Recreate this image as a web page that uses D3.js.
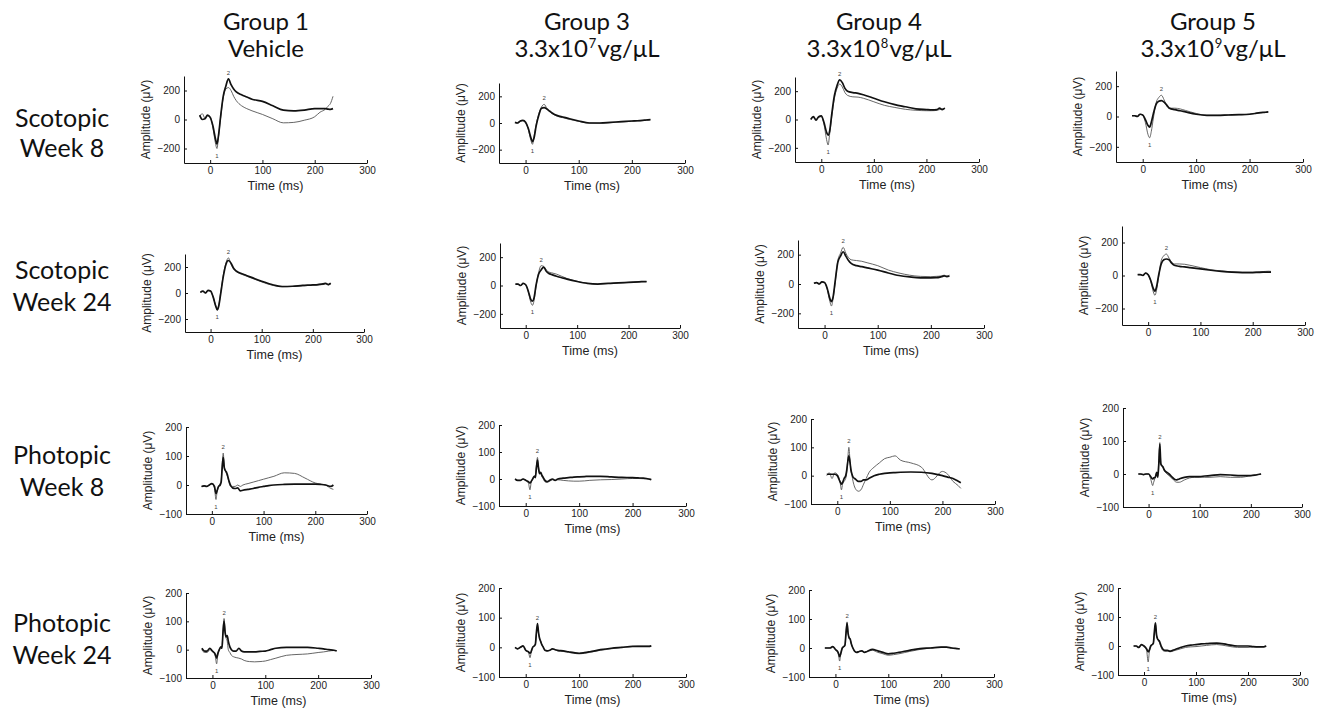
<!DOCTYPE html>
<html><head><meta charset="utf-8">
<script src="https://cdn.jsdelivr.net/npm/d3@7"></script>
<style>body{margin:0;background:#fff}</style></head>
<body>
<svg id="c" width="1325" height="711"></svg>
<script>
// ---------------- DATA ----------------
const groupNames = ["Group 1", "Group 3", "Group 4", "Group 5"];
const doseBase = ["Vehicle", "3.3x10", "3.3x10", "3.3x10"];
const doseExp = ["", "7", "8", "9"];
const doseUnit = ["", "vg/μL", "vg/μL", "vg/μL"];
const rowLine1 = ["Scotopic", "Scotopic", "Photopic", "Photopic"];
const rowLine2 = ["Week 8", "Week 24", "Week 8", "Week 24"];

const xTicks = [0, 100, 200, 300];
const scotYTicks = [-200, 0, 200];
const photYTicks = [-100, 0, 100, 200];
const scotYDomain = [-300, 300];
const photYDomain = [-100, 200];

const scotTime = [-20,-15,-10,-5,0,5,10,13,16,20,25,30,35,40,45,50,60,70,80,100,120,140,160,180,200,210,220,225,230,235];
const photTime = [-20,-15,-10,-5,0,5,8,10,13,16,18,20,22,24,26,28,30,33,36,40,45,50,55,60,70,80,90,100,110,120,140,160,180,200,210,220,230,235];

// Scotopic week 8
const s8g1Thick = [30,0,5,30,15,-40,-130,-170,-110,20,160,230,280,240,210,190,170,155,140,125,95,65,60,65,75,75,75,72,70,75];
const s8g1Thin  = [20,40,10,25,20,-50,-160,-200,-120,10,150,210,220,200,160,130,95,75,60,35,5,-23,-20,-5,19,50,70,90,110,160];
const s8g3Thick = [5,0,15,20,5,-40,-110,-140,-110,-20,60,110,115,105,90,75,55,45,35,15,0,0,5,10,15,17,20,22,24,25];
const s8g3Thin  = [5,0,12,18,5,-45,-130,-160,-100,-10,70,120,140,110,85,70,50,40,30,12,0,-2,3,8,13,15,18,20,22,24];
const s8g4Thick = [0,20,-5,20,25,-20,-90,-110,-80,40,170,240,280,260,220,200,190,185,175,150,125,105,90,75,70,68,70,80,70,80];
const s8g4Thin  = [5,15,0,15,20,-30,-140,-180,-100,20,150,220,250,230,190,170,160,158,150,125,100,85,72,65,62,62,65,70,75,80];
const s8g5Thick = [5,5,0,15,10,-20,-60,-70,-40,20,80,100,105,95,75,55,45,38,30,15,8,8,10,12,15,20,25,27,28,30];
const s8g5Thin  = [5,5,0,15,10,-40,-120,-140,-100,-10,90,125,140,110,70,55,55,50,40,20,8,8,10,12,15,20,24,26,28,30];
// Scotopic week 24
const s24g1Thick = [5,15,0,20,15,-30,-100,-130,-100,0,130,220,250,230,190,170,150,135,120,90,65,50,52,58,62,65,70,75,65,75];
const s24g1Thin  = [5,12,0,18,12,-30,-95,-120,-95,10,140,230,270,220,185,165,145,130,115,85,60,48,50,55,60,62,65,68,62,70];
const s24g3Thick = [10,10,0,15,5,-40,-100,-110,-90,0,80,110,130,100,85,78,65,55,45,28,15,10,15,18,22,24,26,27,28,28];
const s24g3Thin  = [10,10,0,15,5,-45,-120,-140,-110,-10,90,140,135,110,95,90,80,65,50,30,15,10,14,18,22,24,26,27,28,28];
const s24g4Thick = [5,10,0,15,10,-30,-100,-120,-90,20,150,190,220,190,160,140,125,118,110,95,75,58,48,42,42,43,50,55,50,55];
const s24g4Thin  = [5,10,0,15,10,-35,-120,-150,-100,10,160,210,250,210,180,165,160,155,145,125,95,75,60,52,50,52,55,60,55,60];
const s24g5Thick = [5,5,0,15,5,-30,-80,-95,-70,0,70,95,100,95,75,62,55,52,48,40,32,25,20,18,18,19,20,20,20,20];
const s24g5Thin  = [5,5,0,15,5,-35,-100,-120,-90,-10,90,120,130,105,80,70,70,68,62,48,35,28,22,20,20,22,24,25,26,25];
// Photopic week 8
const p8g1Thick = [-5,-3,-5,0,5,-5,-30,-20,-5,0,10,60,95,60,50,45,35,15,0,-10,-12,-10,-20,-18,-15,-12,-8,-5,-2,0,2,3,3,3,2,0,-5,0];
const p8g1Thin  = [-5,-3,-5,0,5,-10,-50,-25,-5,5,15,70,110,65,50,40,30,10,-5,-5,-5,0,-5,0,5,10,15,20,25,30,42,40,24,7,3,0,-12,-15];
const p8g3Thick = [0,-5,-5,0,-5,-10,-15,-10,0,10,5,40,70,40,20,25,15,5,-5,-10,-5,0,-5,0,3,5,7,8,9,10,10,8,6,5,4,3,0,-3];
const p8g3Thin  = [0,-5,-5,0,-5,-15,-40,-15,0,10,15,50,80,45,20,20,10,0,-10,-12,-8,-3,-5,-3,-5,-7,-8,-8,-7,-5,-3,-2,0,2,2,1,0,0];
const p8g4Thick = [5,5,5,5,0,-20,-30,-25,-10,0,20,50,70,50,20,5,-5,-10,-15,-20,-20,-15,-15,-10,0,5,8,10,11,12,13,12,8,0,-5,-10,-20,-25];
const p8g4Thin  = [0,10,-10,10,5,-20,-50,-30,-20,-10,10,60,100,60,20,0,-20,-40,-50,-55,-50,-30,-10,10,30,45,60,65,70,55,45,30,-15,15,5,-20,-35,-45];
const p8g5Thick = [0,0,-2,0,0,-10,-15,-12,-10,5,-10,30,90,30,25,22,15,8,5,0,-8,-15,-18,-15,-10,-8,-8,-8,-6,-5,-2,-3,-5,-5,-3,0,null,null];
const p8g5Thin  = [0,0,-2,0,0,-20,-35,-25,-10,5,-5,40,95,35,25,20,12,5,0,-5,-12,-20,-25,-25,-18,-12,-10,-10,-10,-10,-8,-10,-10,-5,-3,0,null,null];
// Photopic week 24
const p24g1Thick = [5,-5,-5,5,-5,-15,-30,-15,0,10,5,60,100,60,45,50,30,10,0,-5,-5,5,-5,-8,-8,-8,-6,-5,0,5,8,8,8,5,3,0,-2,-5];
const p24g1Thin  = [0,-10,-10,0,-5,-20,-50,-20,0,10,10,70,110,65,40,30,0,-10,-20,-25,-28,-30,-33,-38,-42,-43,-42,-40,-35,-30,-20,-17,-15,-10,-8,-5,-3,-3];
const p24g3Thick = [0,-5,0,5,-10,-15,-20,-15,0,5,10,50,80,50,30,20,10,0,-10,-12,-10,-5,-8,-10,-12,-15,-18,-20,-18,-15,-8,-3,0,3,3,3,3,5];
const p24g3Thin  = [0,-5,0,5,-10,-15,-35,-20,0,5,10,45,70,45,30,20,10,0,-10,-12,-10,-5,-8,-12,-14,-17,-20,-22,-20,-17,-10,-5,0,3,4,4,4,5];
const p24g4Thick = [0,0,0,5,-5,-15,-30,-20,0,5,10,50,85,50,35,30,15,0,-10,-15,-12,-10,-15,-12,-5,-10,-15,-20,-18,-15,-8,-2,0,3,3,0,-2,-3];
const p24g4Thin  = [0,0,0,5,-5,-15,-45,-20,0,5,10,55,90,50,35,30,15,0,-10,-15,-12,-10,-15,-12,-8,-15,-20,-25,-23,-20,-12,-5,0,3,3,0,-2,-3];
const p24g5Thick = [0,0,-5,5,0,-10,-20,-15,0,5,10,50,80,40,25,20,15,0,-10,-15,-15,-18,-15,-12,-5,0,3,5,7,8,10,5,0,0,-2,-3,-3,0];
const p24g5Thin  = [0,0,-5,5,0,-15,-55,-25,0,5,10,45,75,35,25,20,10,-5,-15,-18,-18,-20,-18,-15,-10,-5,-3,-2,0,2,5,0,-5,-5,-3,-3,-2,0];

const traces = [
  [[s8g1Thick,s8g1Thin],[s8g3Thick,s8g3Thin],[s8g4Thick,s8g4Thin],[s8g5Thick,s8g5Thin]],
  [[s24g1Thick,s24g1Thin],[s24g3Thick,s24g3Thin],[s24g4Thick,s24g4Thin],[s24g5Thick,s24g5Thin]],
  [[p8g1Thick,p8g1Thin],[p8g3Thick,p8g3Thin],[p8g4Thick,p8g4Thin],[p8g5Thick,p8g5Thin]],
  [[p24g1Thick,p24g1Thin],[p24g3Thick,p24g3Thin],[p24g4Thick,p24g4Thin],[p24g5Thick,p24g5Thin]]
];

// ---------------- LAYOUT ----------------
const layout = [
  [{x0:184,x1:367,yt:76,yb:163,tl:true},{x0:499,x1:685,yt:83,yb:163,tl:true},{x0:795,x1:979,yt:77,yb:162,tl:true},{x0:1116,x1:1303,yt:71,yb:162,tl:true}],
  [{x0:185,x1:364,yt:254,yb:332,tl:true},{x0:500,x1:680,yt:243,yb:328,tl:true},{x0:798,x1:984,yt:240,yb:328,tl:true},{x0:1122,x1:1305,yt:226,yb:325,tl:false}],
  [{x0:186,x1:367,yt:427,yb:514,tl:true},{x0:499,x1:686,yt:425,yb:506,tl:true},{x0:811,x1:995,yt:419,yb:504,tl:true},{x0:1123,x1:1302,yt:408,yb:507,tl:false}],
  [{x0:186,x1:371,yt:593,yb:678,tl:true},{x0:499,x1:686,yt:588,yb:677,tl:true},{x0:809,x1:994,yt:590,yb:677,tl:true},{x0:1118,x1:1300,yt:588,yb:675,tl:true}]
];
const headerX = [266, 587, 879, 1213];
const rowLabelY = [[118,148],[270,302],[455,487],[623,655]];

const svg = d3.select("#c");
const bigFont = "Lato, 'Open Sans', sans-serif";
const axFont = "'Liberation Sans', Arial, sans-serif";
const bigSize = 24;

// text placed by its alphabetic baseline
function bigText(x, y, s, size, anchor) {
  return svg.append("text").attr("x", x).attr("y", y).attr("text-anchor", anchor || "middle")
    .attr("font-family", bigFont).attr("font-size", size).attr("fill", "#111").text(s);
}

// headers
groupNames.forEach((g, i) => {
  bigText(headerX[i], 30, g, bigSize);
  if (!doseExp[i]) {
    bigText(headerX[i], 57, doseBase[i], bigSize);
  } else {
    const a = bigText(0, 57, doseBase[i], bigSize, "start");
    const b = bigText(0, 48, doseExp[i], 13, "start");
    const c = bigText(0, 57, doseUnit[i], bigSize, "start");
    const wa = a.node().getComputedTextLength();
    const wb = b.node().getComputedTextLength();
    const wc = c.node().getComputedTextLength();
    const start = headerX[i] - (wa + wb + wc + 2) / 2;
    a.attr("x", start);
    b.attr("x", start + wa + 1);
    c.attr("x", start + wa + wb + 2);
  }
});
// row labels
rowLine1.forEach((r, i) => {
  bigText(62, rowLabelY[i][0] + 9, r, 25);
  bigText(62, rowLabelY[i][1] + 9, rowLine2[i], 25);
});

// panels
layout.forEach((row, ri) => {
  const scot = ri < 2;
  const times = scot ? scotTime : photTime;
  row.forEach((p, ci) => {
    const x = d3.scaleLinear().domain([-50, 300]).range([p.x0, p.x1]);
    const y = d3.scaleLinear().domain(scot ? scotYDomain : photYDomain).range([p.yb, p.yt]);
    const g = svg.append("g");
    const xa = g.append("g").attr("transform", `translate(0,${p.yb})`)
      .call(d3.axisBottom(x).tickValues(xTicks).tickSize(-3).tickSizeOuter(0).tickPadding(4));
    const ya = g.append("g").attr("transform", `translate(${p.x0},0)`)
      .call(d3.axisLeft(y).tickValues(scot ? scotYTicks : photYTicks).tickSize(-3).tickSizeOuter(0).tickPadding(4));
    [xa, ya].forEach(a => {
      a.selectAll("path,line").attr("stroke", "#111").attr("stroke-width", 1);
      a.selectAll("text").attr("font-family", axFont).attr("font-size", 10).attr("fill", "#222");
    });
    g.append("text").attr("transform", `translate(${p.x0 - 38},${(p.yt + p.yb) / 2}) rotate(-90)`)
      .attr("text-anchor","middle").attr("dominant-baseline","central")
      .attr("font-family", axFont).attr("font-size", 12).attr("fill","#222").text("Amplitude (μV)");
    if (p.tl) {
      g.append("text").attr("x", (p.x0 + p.x1) / 2).attr("y", p.yb + 23)
        .attr("text-anchor","middle").attr("dominant-baseline","central")
        .attr("font-family", axFont).attr("font-size", 12.5).attr("fill","#222").text("Time (ms)");
    }
    const [thick, thin] = traces[ri][ci];
    const line = d3.line().defined(d => d[1] != null).x(d => x(d[0])).y(d => y(d[1])).curve(d3.curveMonotoneX);
    const pts = arr => times.map((t, i) => [t, arr[i]]);
    g.append("path").attr("d", line(pts(thin))).attr("fill","none").attr("stroke","#555").attr("stroke-width", 0.9);
    g.append("path").attr("d", line(pts(thick))).attr("fill","none").attr("stroke","#111").attr("stroke-width", 1.7);
    // markers: 1 = a-wave trough, 2 = b-wave peak
    const both = pts(thick).concat(pts(thin)).filter(d => d[1] != null);
    const pk = both.filter(d => d[0] > 15 && d[0] < 45).reduce((a, b) => (b[1] > a[1] ? b : a));
    const tr = both.filter(d => d[0] > 0 && d[0] < 20).reduce((a, b) => (b[1] < a[1] ? b : a));
    g.append("text").attr("x", x(pk[0])).attr("y", y(pk[1]) - 4).attr("text-anchor","middle")
      .attr("font-family", axFont).attr("font-size", 6).attr("fill","#444").text("2");
    g.append("text").attr("x", x(tr[0])).attr("y", y(tr[1]) + 9).attr("text-anchor","middle")
      .attr("font-family", axFont).attr("font-size", 6).attr("fill","#444").text("1");
  });
});
</script>
</body></html>
